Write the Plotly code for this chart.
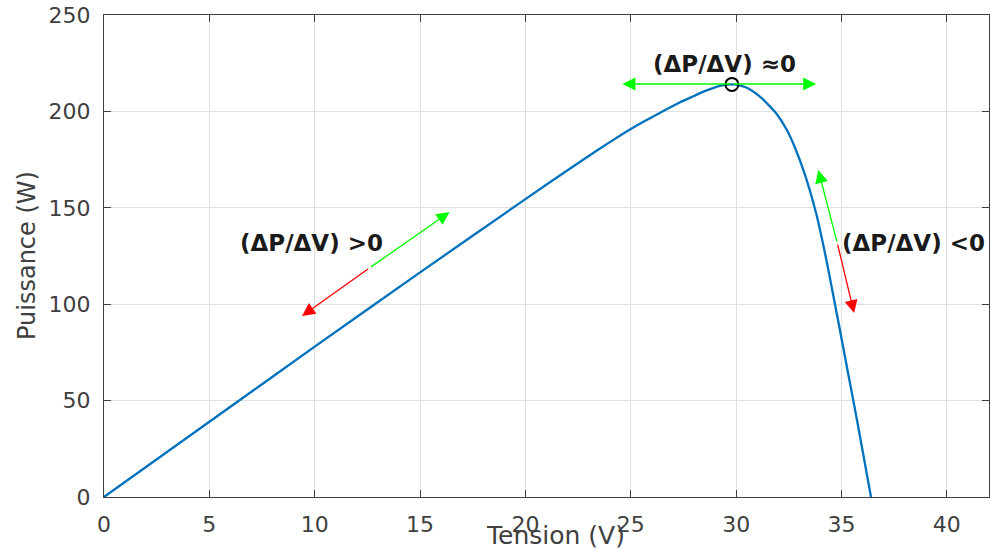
import plotly.graph_objects as go

# P-V curve of the PV panel
tension = [0, 5, 10, 15, 20, 22, 23.5, 24.5, 25.1, 26, 27.3, 28, 28.5, 29, 29.4, 29.8,
           30.2, 30.6, 31.2, 31.9, 32.4, 32.8, 33.3, 33.8, 34.3, 34.9, 35.3, 35.7, 36.1, 36.4]
puissance = [0, 39, 78, 116.5, 154.5, 169.5, 180.5, 187.5, 191.5, 197, 204.5, 208, 210.5, 212.5, 213.6, 214,
             213.4, 211.8, 207, 199, 190.5, 181, 166, 147, 122, 88, 65, 42, 18, 0]

mpp_v = [29.8]
mpp_p = [214]

fig = go.Figure()
fig.add_trace(go.Scatter(x=tension, y=puissance, mode="lines",
                         line=dict(color="#0072BD", width=2.3, shape="spline", smoothing=0.5),
                         showlegend=False, hoverinfo="skip"))
fig.add_trace(go.Scatter(x=mpp_v, y=mpp_p, mode="markers",
                         marker=dict(symbol="circle-open", size=13, color="black", line=dict(width=2)),
                         showlegend=False))

GREEN = "#00ff00"
RED = "#ff0000"

def arrow(x0, y0, x1, y1, color):
    fig.add_annotation(x=x1, y=y1, ax=x0, ay=y0, xref="x", yref="y", axref="x", ayref="y",
                       showarrow=True, arrowhead=2, arrowsize=2.0, arrowwidth=1.3,
                       arrowcolor=color, text="")

# horizontal arrows at MPP
arrow(29.8, 214.2, 24.6, 214.2, GREEN)
arrow(29.8, 214.2, 33.8, 214.2, GREEN)
# left side
arrow(12.6, 118.8, 16.4, 147.8, GREEN)
arrow(12.6, 118.8, 9.4, 93.9, RED)
# right side
arrow(34.8, 131.7, 33.9, 169.6, GREEN)
arrow(34.8, 131.7, 35.6, 95.4, RED)

lab_font = dict(family="DejaVu Sans", size=23, color="#1a1a1a")
fig.add_annotation(x=29.43, y=224.6, text="<b>(ΔP/ΔV) ≈0</b>", showarrow=False, font=lab_font)
fig.add_annotation(x=9.86, y=131.7, text="<b>(ΔP/ΔV) >0</b>", showarrow=False, font=lab_font)
fig.add_annotation(x=38.4, y=132, text="<b>(ΔP/ΔV) <0</b>", showarrow=False, font=lab_font)

# axis titles
fig.add_annotation(x=0.5, y=0, xref="paper", yref="paper", xanchor="center", yanchor="middle",
                   yshift=-38, xshift=9, text="Tension (V)", showarrow=False,
                   font=dict(family="DejaVu Sans", size=25, color="#404040"))
fig.add_annotation(x=0, y=0.5, xref="paper", yref="paper", xanchor="center", yanchor="middle",
                   xshift=-77, text="Puissance (W)", textangle=-90, showarrow=False,
                   font=dict(family="DejaVu Sans", size=24, color="#404040"))

axis_common = dict(showgrid=True, gridcolor="#e0e0e0", gridwidth=1, zeroline=False,
                   showline=True, linecolor="#404040", linewidth=1, mirror="ticks",
                   ticks="inside", ticklen=7, tickcolor="#404040",
                   tickfont=dict(family="DejaVu Sans", size=22, color="#404040"))

fig.update_xaxes(range=[0, 42], tickvals=[0, 5, 10, 15, 20, 25, 30, 35, 40],
                 ticklabelstandoff=8, **axis_common)
fig.update_yaxes(range=[0, 250], tickvals=[0, 50, 100, 150, 200, 250],
                 ticklabelstandoff=8, **axis_common)

fig.update_layout(width=992, height=556, margin=dict(l=104, r=3, t=15, b=59),
                  plot_bgcolor="white", paper_bgcolor="white")

fig.write_html("out.html")
